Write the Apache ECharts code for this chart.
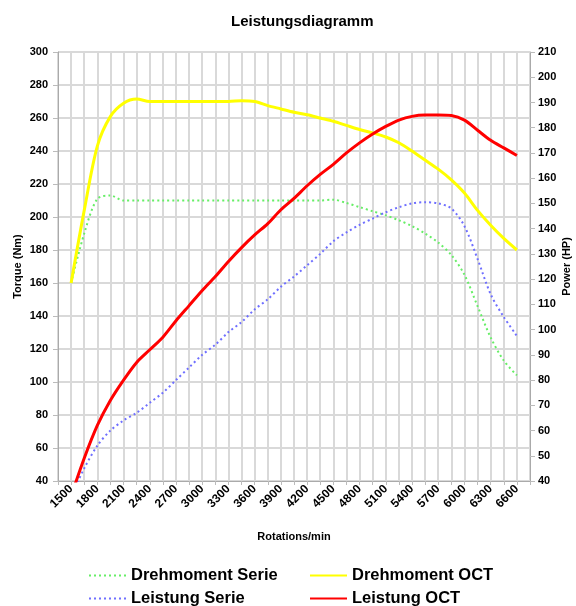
<!DOCTYPE html>
<html>
<head>
<meta charset="utf-8">
<script src="https://cdn.jsdelivr.net/npm/echarts@6/dist/echarts.min.js"></script>
<style>
  html, body { margin: 0; padding: 0; background: #fff; }
  #main { width: 576px; height: 606px; }
</style>
</head>
<body>
<div id="main"></div>
<script>
// rotations per minute (one point every 150 rpm)
const rpm = [1500, 1650, 1800, 1950, 2100, 2250, 2400, 2550, 2700, 2850, 3000, 3150,
  3300, 3450, 3600, 3750, 3900, 4050, 4200, 4350, 4500, 4650, 4800, 4950, 5100,
  5250, 5400, 5550, 5700, 5850, 6000, 6150, 6300, 6450, 6600];

// torque (Nm), left axis
const torqueSerie = [160, 190, 211, 213, 210, 210, 210, 210, 210, 210, 210, 210,
  210, 210, 210, 210, 210, 210, 210, 210, 210.5, 208.5, 206, 203.5, 201,
  198, 194.5, 190, 184.5, 177, 165, 146, 127, 113, 104];
const torqueOct = [160, 204, 243, 261, 269, 271.5, 270, 270, 270, 270, 270, 270,
  270, 270.5, 270, 267.5, 265.5, 263.5, 262, 260, 258, 255.5, 253, 251, 248.5,
  245, 240, 234.5, 229, 222.5, 214.5, 204, 195, 187, 180];

// power (HP), right axis
const powerSerie = [34, 45, 54, 60, 64, 67, 71, 75, 80, 85, 90, 94,
  99, 103, 108, 112, 117, 121, 125.5, 130, 135, 138.5, 141.5, 144, 146.5,
  148.5, 150, 150.5, 150, 148, 141, 128, 114, 105, 97.5];
const powerOct = [34, 49, 62, 72, 80, 87, 92, 97, 103.5, 109.5, 115.5, 121,
  127, 132.5, 137.5, 142, 147.5, 152, 157, 161.5, 165.5, 170, 174, 177.5, 180.5,
  183, 184.5, 185, 185, 184.8, 183, 179, 175, 172, 169];

// x tick labels that are shown
const xLabels = [1500, 1800, 2100, 2400, 2700, 3000, 3300, 3600, 3900, 4200,
  4500, 4800, 5100, 5400, 5700, 6000, 6300, 6600];

const font = 'Liberation Sans, Arial, sans-serif';
const pairs = vals => rpm.map((r, i) => [r, vals[i]]);

// one legend per entry so they sit in two rows / two columns like the original
const legendItem = (name, left, top) => ({
  data: [name],
  left: left, top: top,
  padding: 0,
  itemWidth: 37, itemHeight: 14, itemGap: 5,
  itemStyle: { color: 'transparent', borderColor: 'transparent', borderWidth: 0 },
  textStyle: { fontSize: 16.5, fontWeight: 'bold', color: '#000', fontFamily: font }
});

let chart = echarts.init(document.getElementById('main'));

let option = {
  backgroundColor: '#fff',
  animation: false,
  textStyle: { fontFamily: font },
  title: {
    text: 'Leistungsdiagramm',
    left: 226,
    top: 9,
    textStyle: { fontSize: 15, fontWeight: 'bold', color: '#000', fontFamily: font }
  },
  grid: { left: 58, right: 46, top: 52, bottom: 125, containLabel: false, outerBoundsMode: 'none' },
  legend: [
    legendItem('Drehmoment Serie', 88, 567),
    legendItem('Drehmoment OCT', 309, 567),
    legendItem('Leistung Serie', 88, 590),
    legendItem('Leistung OCT', 309, 590)
  ],
  xAxis: {
    type: 'value',
    min: 1350, max: 6750, interval: 150,
    name: 'Rotations/min',
    nameLocation: 'middle',
    nameGap: 50,
    nameTextStyle: { fontSize: 11, fontWeight: 'bold', color: '#000' },
    axisLine: { lineStyle: { color: '#aaa', width: 1 } },
    axisTick: { show: true, length: 4, lineStyle: { color: '#bbb' } },
    axisLabel: {
      rotate: 45,
      fontSize: 12, fontWeight: 'bold', color: '#000',
      margin: 6,
      showMinLabel: true, showMaxLabel: true,
      formatter: v => (xLabels.includes(v) ? String(v) : '')
    },
    splitLine: { show: true, lineStyle: { color: '#d9d9d9', width: 2 } }
  },
  yAxis: [
    {
      type: 'value',
      min: 40, max: 300, interval: 20,
      name: 'Torque (Nm)',
      nameLocation: 'middle',
      nameGap: 35,
      nameMoveOverlap: false,
      nameTextStyle: { fontSize: 11, fontWeight: 'bold', color: '#000' },
      axisLine: { show: true, lineStyle: { color: '#aaa' } },
      axisTick: { show: true, length: 5, lineStyle: { color: '#bbb' } },
      axisLabel: { fontSize: 11, fontWeight: 'bold', color: '#000', margin: 10 },
      splitLine: { show: true, lineStyle: { color: '#d9d9d9', width: 2 } }
    },
    {
      type: 'value',
      min: 40, max: 210, interval: 10,
      name: 'Power (HP)',
      nameLocation: 'middle',
      nameGap: 31,
      nameMoveOverlap: false,
      nameRotate: 90,
      nameTextStyle: { fontSize: 11, fontWeight: 'bold', color: '#000' },
      axisLine: { show: true, lineStyle: { color: '#aaa' } },
      axisTick: { show: true, length: 5, lineStyle: { color: '#bbb' } },
      axisLabel: { fontSize: 11, fontWeight: 'bold', color: '#000', margin: 8 },
      splitLine: { show: false }
    }
  ],
  series: [
    {
      name: 'Drehmoment Serie',
      type: 'line',
      yAxisIndex: 0,
      data: pairs(torqueSerie),
      smooth: 0.3,
      symbol: 'none',
      itemStyle: { color: '#66ee66' },
      lineStyle: { color: '#66ee66', width: 2, type: [2, 3] },
      z: 3
    },
    {
      name: 'Leistung Serie',
      type: 'line',
      yAxisIndex: 1,
      data: pairs(powerSerie),
      smooth: 0.3,
      symbol: 'none',
      itemStyle: { color: '#6f6fff' },
      lineStyle: { color: '#6f6fff', width: 2, type: [2, 3] },
      z: 3
    },
    {
      name: 'Drehmoment OCT',
      type: 'line',
      yAxisIndex: 0,
      data: pairs(torqueOct),
      smooth: 0.3,
      symbol: 'none',
      itemStyle: { color: '#ffff00' },
      lineStyle: { color: '#ffff00', width: 3 },
      z: 4
    },
    {
      name: 'Leistung OCT',
      type: 'line',
      yAxisIndex: 1,
      data: pairs(powerOct),
      smooth: 0.3,
      symbol: 'none',
      itemStyle: { color: '#ff0000' },
      lineStyle: { color: '#ff0000', width: 3 },
      z: 4
    }
  ]
};

chart.setOption(option);
</script>
</body>
</html>
